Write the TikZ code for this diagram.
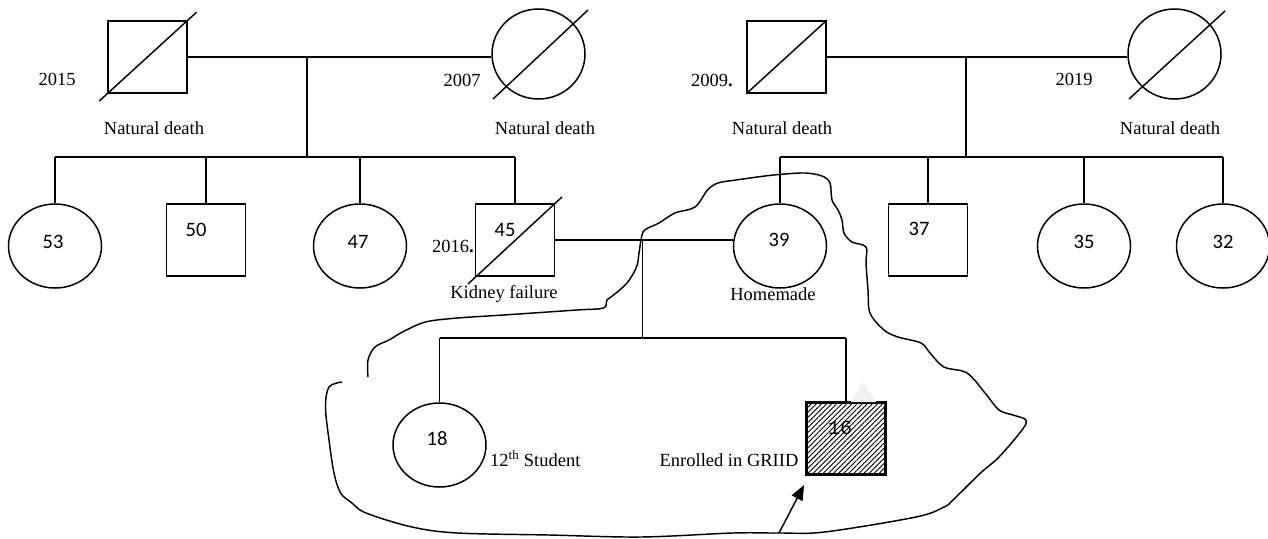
\documentclass[tikz,border=0pt]{standalone}
\usepackage{fontspec}
\setmainfont{Liberation Serif}
\newfontfamily\numfont{Carlito}
\newfontfamily\monofont{Liberation Mono}
\usetikzlibrary{shapes.geometric,calc,patterns.meta,arrows.meta}

\tikzset{
  line/.style={line width=1.45pt},
  male/.style={draw, line width=1.5pt, rectangle, minimum width=79pt, minimum height=72pt, inner sep=0pt},
  female/.style={draw, line width=1.5pt, ellipse, minimum width=93pt, minimum height=#1, inner sep=0pt},
  lbl/.style={font=\fontsize{18.5}{20}\selectfont, inner sep=0pt},
  num/.style={font=\numfont\fontsize{20.5}{22}\selectfont, inner sep=0pt},
  proband/.style={male, line width=2.8pt, pattern={Lines[angle=45,distance=3.6pt,line width=0.9pt]}},
}

\begin{document}
\begin{tikzpicture}[x=1pt,y=-1pt]
\useasboundingbox (0,0) rectangle (1268,538);

% --- grandparents, paternal side
\node[male] (gf1) at (147.5,57) {};
\node[female=90pt] (gm1) at (538.5,54) {};
% --- grandparents, maternal side
\node[male] (gf2) at (786.5,57) {};
\node[female=90pt] (gm2) at (1174.5,54) {};

% deceased marks
\draw[line] ($(gf1.south west)!-0.1!(gf1.north east)$) -- ($(gf1.south west)!1.11!(gf1.north east)$);
\draw[line] ($(gm1.center)+(-45.5,45)$) -- ($(gm1.center)+(49.5,-44)$);
\draw[line] (gf2.south west) -- (gf2.north east);
\draw[line] ($(gm2.center)+(-45.5,45)$) -- ($(gm2.center)+(50.5,-43)$);

% --- second generation
\node[female=84pt] (c53) at (55,246) {};
\node[male] (c50) at (206,240) {};
\node[female=84pt] (c47) at (360,246) {};
\node[male] (c45) at (515,240) {};
\node[female=84pt] (c39) at (780,246) {};
\node[male] (c37) at (928,240) {};
\node[female=84pt] (c35) at (1084,246) {};
\node[female=84pt] (c32) at (1223,246) {};
\draw[line] ($(c45.center)+(-47,44)$) -- ($(c45.center)+(47,-43)$);

% --- third generation
\node[female=84pt] (c18) at (439.5,445) {};
\node[proband] (p16) at (846,438.5) {};

% marriage and descent lines, paternal grandparents
\coordinate (d1) at (307,57);
\coordinate (s1) at (307,157);
\draw[line] (gf1.east) -- (gf1.east -| gm1.west);
\draw[line] (d1) -- (s1);
\draw[line] (c53.north |- s1) -- (c45.north |- s1);
\foreach \n in {c53,c50,c47,c45} \draw[line] (\n.north |- s1) -- (\n.north);

% marriage and descent lines, maternal grandparents
\coordinate (d2) at (966,57);
\coordinate (s2) at (966,157);
\draw[line] (gf2.east) -- (gf2.east -| gm2.west);
\draw[line] (d2) -- (s2);
\draw[line] (c39.north |- s2) -- (c32.north |- s2);
\foreach \n in {c39,c37,c35,c32} \draw[line] (\n.north |- s2) -- (\n.north);

% marriage of 45 and 39, with their children
\coordinate (d3) at (642.5,240);
\coordinate (s3) at (642.5,338);
\draw[line] (c45.east) -- (c45.east -| c39.west);
\draw[line] (d3) -- (s3);
\draw[line] (c18.north |- s3) -- (p16.north |- s3);
\foreach \n in {c18,p16} \draw[line] (\n.north |- s3) -- (\n.north);

% faint mark above the proband
\fill[black!5] (863,381) -- (876,402) -- (851,402) -- cycle;

% ages
\node[num] (n53) at (53,242) {53};
\node[num] (n50) at (196,230) {50};
\node[num] (n47) at (358,242) {47};
\node[num] (n45) at (505,230) {45};
\node[num] (n39) at (779,240) {39};
\node[num] (n37) at (919,229) {37};
\node[num] (n35) at (1084,242) {35};
\node[num] (n32) at (1223,242) {32};
\node[num] (n18) at (437,439) {18};
\node[font=\monofont\fontsize{20}{22}\selectfont, inner sep=0pt] (n16) at (840,428) {16};

% years and notes
\node[lbl] (y2015) at (57,79) {2015};
\node[lbl] (y2007) at (462,80) {2007};
\node[lbl] (y2009) at (712,80) {2009\textbf{.}};
\node[lbl] (y2019) at (1074,79) {2019};
\node[lbl] (y2016) at (453,246) {2016\textbf{.}};
\node[lbl] (nd1) at (154,128) {Natural death};
\node[lbl] (nd2) at (545,128) {Natural death};
\node[lbl] (nd3) at (782,128) {Natural death};
\node[lbl] (nd4) at (1170,128) {Natural death};
\node[lbl] (kf) at (504,294) {Kidney failure};
\node[lbl] (hm) at (773,294) {Homemade};
\node[lbl, anchor=base west] (st) at (490,466) {12\textsuperscript{th} Student};
\node[lbl, anchor=base] (gr) at (729,466) {Enrolled in GRIID};

% family outline
\draw[line] plot[smooth, tension=0.55] coordinates {
 (368,377) (368,360) (375,347) (389,340) (402.6,332) (425.5,322) (457.6,318)
 (503.5,315) (577,310) (603.5,308) (607,300) (613.6,295) (627,283) (636.5,267)
 (639,253) (641,240) (643,232) (648,228) (659,223) (675,213) (695,207) (707.5,190)
 (718,183) (736,180) (765,176) (785,174) (805.5,173) (822,176) (830,183) (832,200)
 (838,210) (842,220) (844,233) (852,242) (866,247) (866,263) (868,290) (870,313)
 (884,330) (898,337) (921,343) (930,353) (944,367) (967,373) (985,393) (999,410)
 (1013,415) (1026,420) (1022,430) (999,457) (980.5,473) (953,500) (944,507)
 (916,517) (824.6,532) (779,533) (733,533) (641,537) (549,535) (457.6,533)
 (412,527) (366,513) (352,503) (340.6,493) (334,473) (329,440) (325.5,407)
 (329,387) (342,382)};

% pointer to the proband
\coordinate (tail) at (779,533);
\draw[line, -{Triangle[length=15pt,width=12pt]}] (tail) -- ($(p16.south west)+(-2,10)$);
\end{tikzpicture}
\end{document}
